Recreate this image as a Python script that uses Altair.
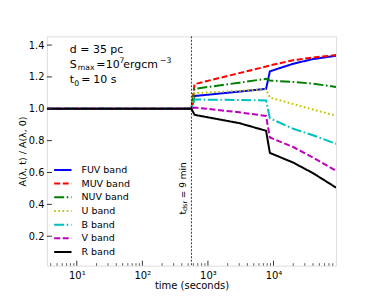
import altair as alt
import pandas as pd

# ---------------- data ----------------
bands = ["FUV band", "MUV band", "NUV band", "U band", "B band", "V band", "R band"]
colors = ["#0000ff", "#ff0000", "#008000", "#bfbf00", "#00bfbf", "#bf00bf", "#000000"]
dashes = [[1, 0], [6, 2.6], [10, 2.6, 1.6, 2.6], [1.6, 2.6], [10, 2.6, 1.6, 2.6], [6, 2.6], [1, 0]]

times = [3.5, 560, 625, 3000, 7700, 8800, 20000, 40000, 90000]
fuv = [1.0, 1.0, 1.080, 1.108, 1.125, 1.235, 1.283, 1.312, 1.333]
muv = [1.0, 1.0, 1.155, 1.224, 1.265, 1.272, 1.305, 1.322, 1.337]
nuv = [1.0, 1.0, 1.125, 1.164, 1.188, 1.178, 1.168, 1.158, 1.137]
u_b = [1.0, 1.0, 1.098, 1.112, 1.122, 1.070, 1.030, 0.995, 0.957]
b_b = [1.0, 1.0, 1.058, 1.055, 1.052, 0.940, 0.875, 0.834, 0.780]
v_b = [1.0, 1.0, 1.008, 0.978, 0.955, 0.820, 0.760, 0.694, 0.610]
r_b = [1.0, 1.0, 0.962, 0.910, 0.862, 0.723, 0.662, 0.596, 0.505]
series = [fuv, muv, nuv, u_b, b_b, v_b, r_b]

t_dsr = [560]
x_major = [10, 100, 1000, 10000]
x_minor = [m * 10 ** k for k in range(0, 5) for m in range(2, 10) if 3.5 <= m * 10 ** k <= 89000]
y_major = [0.2, 0.4, 0.6, 0.8, 1.0, 1.2, 1.4]

# ---------------- layout constants ----------------
W, H = 290, 230
XDOM = [3.5, 90000]
YDOM = [0.015, 1.455]
FONT = "DejaVu Sans"
FRAME = "#333333"

rows = []
for b, vals in zip(bands, series):
    for t, v in zip(times, vals):
        rows.append({"band": b, "t": t, "v": v})
df = pd.DataFrame(rows)

xscale = alt.Scale(type="log", domain=XDOM, nice=False)
yscale = alt.Scale(domain=YDOM, nice=False, zero=False)

sup = "datum.value == 10 ? '10¹' : datum.value == 100 ? '10²' : datum.value == 1000 ? '10³' : '10⁴'"

lines = alt.Chart(df).mark_line(strokeWidth=2, clip=True).encode(
    x=alt.X("t:Q", scale=xscale,
            axis=alt.Axis(values=x_major, labelExpr=sup, title="time (seconds)", grid=False,
                          ticks=False, domain=False, labelPadding=5, titlePadding=0,
                          labelFontSize=10, titleFontSize=10, labelFont=FONT, titleFont=FONT,
                          labelColor="#000", titleColor="#000", titleFontWeight="normal")),
    y=alt.Y("v:Q", scale=yscale,
            axis=alt.Axis(values=y_major, format=".1f", title="A(λ, t) / A(λ, 0)", grid=False,
                          ticks=False, domain=False, labelPadding=3, titlePadding=1,
                          labelFontSize=9.8, titleFontSize=9.5, labelFont=FONT, titleFont=FONT,
                          labelColor="#000", titleColor="#000", titleFontWeight="normal")),
    color=alt.Color("band:N", scale=alt.Scale(domain=bands, range=colors), legend=None),
    strokeDash=alt.StrokeDash("band:N", scale=alt.Scale(domain=bands, range=dashes), legend=None),
    order=alt.Order("t:Q"),
)

xmaj = alt.Chart(pd.DataFrame({"t": x_major})).mark_rule(color=FRAME, strokeWidth=1).encode(
    x=alt.X("t:Q", scale=xscale), y=alt.value(H), y2=alt.value(H - 5))
xmin = alt.Chart(pd.DataFrame({"t": x_minor})).mark_rule(color=FRAME, strokeWidth=0.8).encode(
    x=alt.X("t:Q", scale=xscale), y=alt.value(H), y2=alt.value(H - 2.5))
ymaj = alt.Chart(pd.DataFrame({"v": y_major})).mark_rule(color=FRAME, strokeWidth=1).encode(
    y=alt.Y("v:Q", scale=yscale, axis=None), x=alt.value(0), x2=alt.value(5))

vline = alt.Chart(pd.DataFrame({"t": t_dsr})).mark_rule(color="#000", strokeWidth=0.8,
                                                          strokeDash=[2, 1.5]).encode(
    x=alt.X("t:Q", scale=xscale), y=alt.value(0), y2=alt.value(H))

# legend drawn as marks
leg_df = pd.DataFrame({"band": bands})
leg_y = alt.Y("band:N", sort=bands, axis=None,
              scale=alt.Scale(type="point", domain=bands, range=[134, 216.3], padding=0))
leg_lines = alt.Chart(leg_df).mark_rule(strokeWidth=2).encode(
    y=leg_y, x=alt.value(7.3), x2=alt.value(24.7),
    color=alt.Color("band:N", scale=alt.Scale(domain=bands, range=colors), legend=None),
    strokeDash=alt.StrokeDash("band:N", scale=alt.Scale(domain=bands, range=dashes), legend=None))
leg_text = alt.Chart(leg_df).mark_text(align="left", baseline="middle", fontSize=9.5,
                                       font=FONT, color="#000").encode(
    y=leg_y, x=alt.value(34.7), text="band:N")


def txt(s, x, y, size=11, angle=0, baseline="alphabetic"):
    return alt.Chart(pd.DataFrame({"s": [s]})).mark_text(
        align="left", baseline=baseline, fontSize=size, font=FONT, color="#000", angle=angle
    ).encode(x=alt.value(x), y=alt.value(y), text="s:N")


annots = [
    txt("d = 35 pc", 23, 16.3),
    txt("S", 23, 31.3), txt("max", 31, 33.5, 7.7), txt("=", 49.5, 31.3), txt("10", 59, 31.3),
    txt("7", 72.8, 26.8, 7.7), txt("ergcm", 76.5, 31.3), txt("−3", 113.5, 26.8, 7.7),
    txt("t", 23, 47.3), txt("0", 27.5, 49.5, 7.7), txt("=", 34.5, 47.3), txt("10", 46.5, 47.3),
    txt("s", 64, 47.3),
    txt("t", 136.3, 178.6, 9, 270, "middle"),
    txt("dsr", 138.8, 175.2, 6.5, 270, "middle"),
    txt("= 9 min", 136.3, 162.3, 9, 270, "middle"),
]

chart = alt.layer(lines, vline, xmaj, xmin, ymaj, leg_lines, leg_text, *annots).resolve_scale(
    y="independent"
).properties(
    width=W, height=H,
    autosize=alt.AutoSizeParams(type="none"),
    padding={"left": 39, "top": 28, "right": 30, "bottom": 25},
).configure_view(stroke=FRAME, strokeWidth=1.2).configure(background="white")

chart.save("out.html", embed_options={"renderer": "svg", "actions": False})
